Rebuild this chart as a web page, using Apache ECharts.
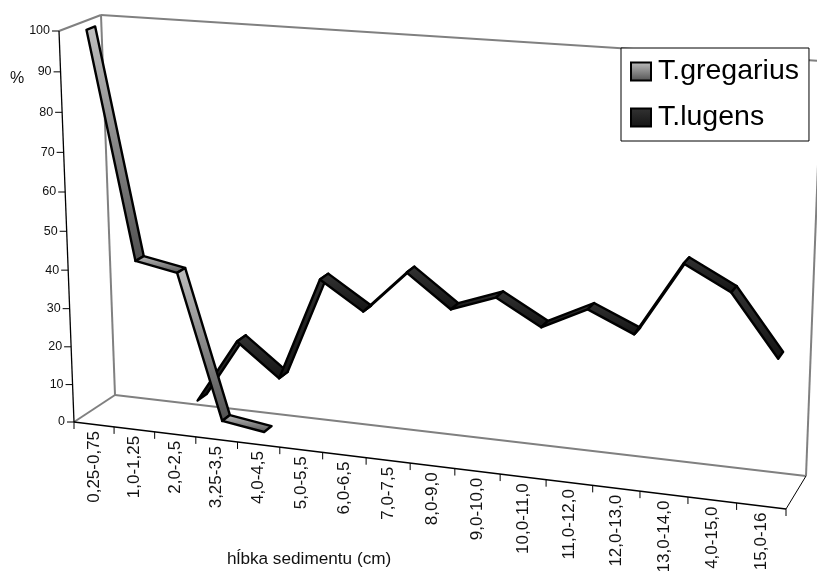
<!DOCTYPE html>
<html>
<head>
<meta charset="utf-8">
<style>
html, body { margin: 0; padding: 0; background: #fff; }
#chart { width: 817px; height: 571px; }
</style>
<script src="https://cdn.jsdelivr.net/npm/echarts@6/dist/echarts.min.js"></script>
</head>
<body>
<div id="chart"></div>
<script>
var categories = ["0,25-0,75", "1,0-1,25", "2,0-2,5", "3,25-3,5", "4,0-4,5", "5,0-5,5", "6,0-6,5", "7,0-7,5",
    "8,0-9,0", "9,0-10,0", "10,0-11,0", "11,0-12,0", "12,0-13,0", "13,0-14,0", "4,0-15,0", "15,0-16"];
var valueTicks = [0, 10, 20, 30, 40, 50, 60, 70, 80, 90, 100];
// depth values start at these categories
var gregariusStart = 0;
var gregarius = [100, 43, 41, 3.7, 2.1];
var lugensStart = 2;
var lugens = [4.6, 21.5, 13, 39.8, 32.7, 43.7, 35.5, 39.6, 33.3, 38.9, 33.9, 52.3, 46.4, 31.5];

var W = 817, H = 571;
// the box of the 3D chart on screen: f = front, b = back, first digit x side, second digit value side
var box = {
    f00: [74, 422], f10: [786, 509], f01: [59, 31], f11: [802, 82],
    b00: [115, 395], b10: [806, 476], b01: [101, 15], b11: [822, 61]
};
var xPersp = 1.118, yPersp = 1.05;

function warp(u, r) {
    return u / (u + r * (1 - u));
}
function mix(a, b, k) {
    return [a[0] + (b[0] - a[0]) * k, a[1] + (b[1] - a[1]) * k];
}
// x in categories, v in percent, z = depth 0..1
function project(api, x, v, z) {
    var p = api.coord([x, v]);
    var t = warp(p[0] / W, xPersp);
    var s = warp(1 - p[1] / H, yPersp);
    var front = mix(mix(box.f00, box.f10, t), mix(box.f01, box.f11, t), s);
    var back = mix(mix(box.b00, box.b10, t), mix(box.b01, box.b11, t), s);
    return mix(front, back, z);
}
function line(a, b, color, width) {
    return {
        type: "line",
        shape: { x1: a[0], y1: a[1], x2: b[0], y2: b[1] },
        style: { stroke: color, lineWidth: width, fill: null }
    };
}
function label(x, y, text, size, align, rot) {
    return {
        type: "text",
        x: x,
        y: y,
        rotation: rot || 0,
        style: {
            text: text,
            fill: "#111",
            font: size + 'px "Liberation Sans", Arial, sans-serif',
            textAlign: align,
            textVerticalAlign: "middle"
        }
    };
}

function renderFrame(params, api) {
    var n = categories.length;
    var grey = "#808080";
    var kids = [
        line(project(api, 0, 0, 1), project(api, 0, 100, 1), grey, 2),
        line(project(api, 0, 100, 1), project(api, n, 100, 1), grey, 2),
        line(project(api, 0, 0, 1), project(api, n, 0, 1), grey, 2),
        line(project(api, n, 0, 1), project(api, n, 100, 1), grey, 2),
        line(project(api, 0, 100, 0), project(api, 0, 100, 1), grey, 2),
        line(project(api, 0, 0, 0), project(api, 0, 0, 1), grey, 2),
        line(project(api, n, 0, 0), project(api, n, 0, 1), "#000", 1),
        line(project(api, 0, 0, 0), project(api, 0, 100, 0), "#000", 1.3),
        line(project(api, 0, 0, 0), project(api, n, 0, 0), "#000", 1.3)
    ];
    valueTicks.forEach(function (v) {
        var p = project(api, 0, v, 0);
        kids.push(line(p, [p[0] - 7, p[1]], "#000", 1));
        kids.push(label(p[0] - 9, p[1], String(v), 12.5, "right"));
    });
    for (var i = 0; i <= n; i++) {
        var p = project(api, i, 0, 0);
        kids.push(line(p, [p[0], p[1] + 7], "#000", 1));
    }
    categories.forEach(function (c, i) {
        var p = project(api, i + 0.5, 0, 0);
        kids.push(label(p[0], p[1] + 6.5, c, 17, "right", Math.PI / 2));
    });
    kids.push(label(10, 79, "%", 16, "left"));
    kids.push(label(227, 559, "hĺbka sedimentu (cm)", 17.2, "left"));
    return { type: "group", children: kids };
}

function ribbonRender(z1, z2, fill) {
    return function (params, api) {
        var x0 = api.value(0), v0 = api.value(1), x1 = api.value(2), v1 = api.value(3);
        return {
            type: "polygon",
            shape: {
                points: [
                    project(api, x0, v0, z1),
                    project(api, x0, v0, z2),
                    project(api, x1, v1, z2),
                    project(api, x1, v1, z1)
                ]
            },
            style: { fill: fill, stroke: "#000", lineWidth: 2.4, lineJoin: "round" }
        };
    };
}
function segments(start, values) {
    var out = [];
    for (var i = 0; i < values.length - 1; i++) {
        out.push([start + i + 0.5, values[i], start + i + 1.5, values[i + 1]]);
    }
    return out;
}

var gregariusFill = new echarts.graphic.LinearGradient(0, 0, 0, 1, [
    { offset: 0, color: "#c0c0c0" }, { offset: 1, color: "#505050" }
]);
var lugensFill = new echarts.graphic.LinearGradient(0, 0, 0, 1, [
    { offset: 0, color: "#333333" }, { offset: 1, color: "#141414" }
]);

var myChart = echarts.init(document.getElementById("chart"), null, { renderer: "canvas" });
var option = {
    animation: false,
    backgroundColor: "#fff",
    grid: { left: 0, top: 0, width: W, height: H, containLabel: false },
    xAxis: { type: "value", min: 0, max: categories.length, show: false },
    yAxis: { type: "value", min: 0, max: 100, show: false },
    legend: {
        orient: "vertical",
        left: 621,
        top: 48,
        padding: [9, 10, 9, 9],
        itemWidth: 20,
        itemHeight: 18,
        itemGap: 17,
        icon: "rect",
        backgroundColor: "#fff",
        borderColor: "#000",
        borderWidth: 1,
        borderRadius: 0,
        textStyle: { fontFamily: '"Liberation Sans", Arial', fontSize: 28.5, color: "#000", padding: [0, 0, 0, 2] },
        data: ["T.gregarius", "T.lugens"]
    },
    series: [
        {
            name: "frame",
            type: "custom",
            z: 1,
            silent: true,
            renderItem: renderFrame,
            data: [[0, 0]]
        },
        {
            name: "T.lugens",
            type: "custom",
            z: 2,
            itemStyle: { color: lugensFill, borderColor: "#000", borderWidth: 2 },
            renderItem: ribbonRender(0.6, 0.84, lugensFill),
            data: segments(lugensStart, lugens)
        },
        {
            name: "T.gregarius",
            type: "custom",
            z: 3,
            itemStyle: { color: gregariusFill, borderColor: "#000", borderWidth: 2 },
            renderItem: ribbonRender(0.16, 0.37, gregariusFill),
            data: segments(gregariusStart, gregarius)
        }
    ]
};
myChart.setOption(option, true);
</script>
</body>
</html>
